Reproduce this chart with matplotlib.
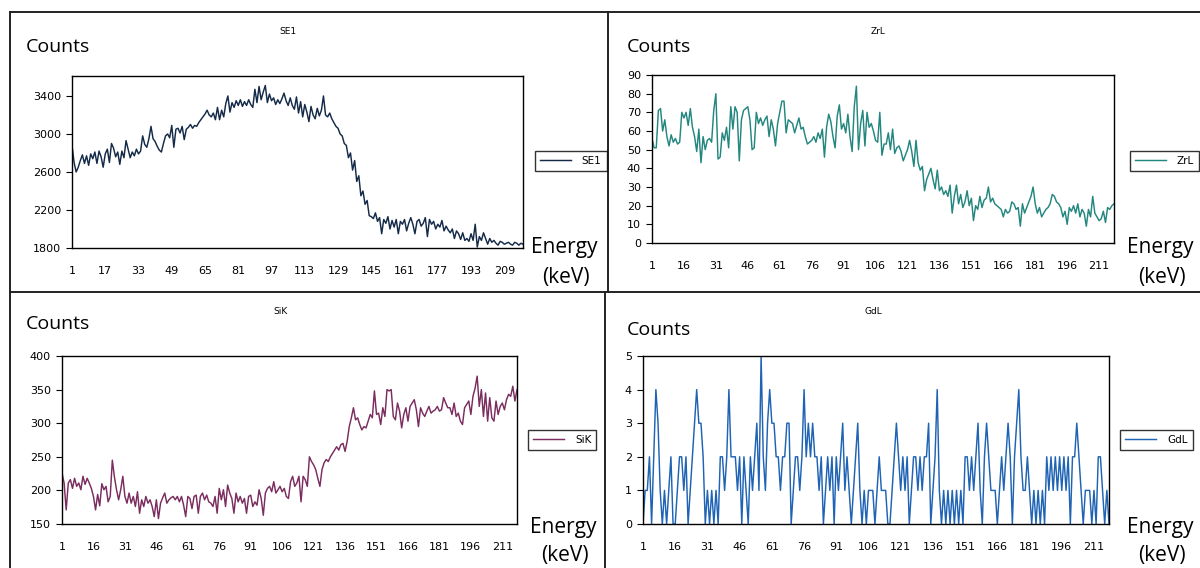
import matplotlib
matplotlib.use("Agg")
import matplotlib.pyplot as plt
from matplotlib.lines import Line2D

# ---------------- data ----------------
se1 = [2880, 2700, 2600, 2650, 2720, 2780, 2690, 2770, 2670, 2790,
       2740, 2810, 2690, 2820, 2760, 2650, 2790, 2840, 2700, 2900,
       2850, 2760, 2810, 2680, 2820, 2750, 2930, 2840, 2750, 2810,
       2770, 2840, 2790, 2820, 2980, 2890, 2860, 2950, 3080, 2950,
       2920, 2870, 2830, 2810, 2900, 2980, 3000, 2960, 3090, 2860,
       3050, 3060, 3010, 3080, 2940, 3050, 3070, 3100, 3060, 3090,
       3080, 3120, 3150, 3180, 3210, 3250, 3200, 3180, 3220, 3150,
       3280, 3150, 3250, 3180, 3320, 3400, 3230, 3330, 3280, 3350,
       3300, 3360, 3290, 3340, 3300, 3360, 3310, 3280, 3470, 3330,
       3500, 3360, 3440, 3510, 3330, 3420, 3350, 3380, 3310, 3360,
       3320, 3370, 3430, 3350, 3300, 3380, 3300, 3260, 3390, 3220,
       3340, 3180, 3310, 3230, 3130, 3290, 3200, 3160, 3270, 3190,
       3250, 3400, 3200, 3180, 3220, 3160, 3120, 3080, 3060, 3000,
       2980, 2900, 2880, 2750, 2800, 2620, 2720, 2500, 2560, 2350,
       2400, 2260, 2300, 2140, 2130, 2110, 2170, 2080, 2120, 1950,
       2100, 2060, 2130, 2000, 2090, 2020, 2100, 1950, 2080, 2050,
       2100, 1980, 2060, 2120, 2050, 1950, 2080, 2100, 2030, 2060,
       2120, 1920, 2100, 2050, 2080, 2000, 2050, 2020, 2090, 1980,
       2030, 1990, 1960, 2000, 1900, 1980, 1950, 1890, 1960, 1880,
       1900, 1870, 1950, 1880, 2050, 1810, 1920, 1880, 1960, 1900,
       1840, 1900, 1860, 1880, 1850, 1830, 1870, 1860, 1840, 1850,
       1860, 1840, 1830, 1860, 1850, 1830, 1850, 1840]

zrl = [56, 51, 51, 71, 72, 60, 66, 57, 52, 58,
       54, 56, 53, 54, 70, 67, 70, 63, 72, 62,
       57, 49, 61, 43, 57, 50, 55, 56, 54, 71,
       80, 45, 46, 59, 55, 62, 51, 73, 61, 73,
       70, 44, 66, 71, 72, 73, 66, 50, 51, 70,
       64, 67, 63, 66, 68, 57, 66, 61, 52, 64,
       70, 76, 76, 59, 66, 65, 64, 59, 63, 67,
       61, 62, 57, 53, 54, 55, 57, 54, 59, 56,
       61, 46, 62, 69, 65, 57, 51, 68, 74, 61,
       64, 59, 69, 57, 49, 73, 84, 50, 64, 71,
       52, 70, 62, 64, 60, 55, 54, 70, 47, 53,
       53, 59, 50, 61, 48, 51, 52, 49, 44, 47,
       50, 55, 49, 41, 55, 43, 39, 41, 28, 34,
       37, 40, 34, 29, 39, 28, 30, 26, 28, 25,
       31, 16, 25, 31, 21, 26, 19, 22, 28, 20,
       24, 12, 20, 18, 25, 19, 23, 24, 30, 22,
       24, 21, 20, 19, 18, 14, 18, 16, 17, 22,
       21, 18, 19, 9, 21, 16, 19, 22, 25, 30,
       21, 16, 19, 14, 16, 18, 19, 21, 26, 25,
       22, 21, 19, 14, 17, 10, 19, 17, 20, 16,
       21, 14, 18, 16, 9, 18, 14, 25, 16, 14,
       12, 13, 17, 11, 19, 18, 20, 21]

sik = [226, 211, 171, 211, 216, 203, 218, 206, 211, 201,
       221, 209, 218, 211, 203, 191, 171, 194, 177, 210,
       201, 206, 183, 191, 245, 220, 201, 186, 201, 221,
       191, 181, 196, 181, 191, 176, 198, 166, 186, 176,
       191, 181, 186, 176, 161, 186, 158, 181, 189, 196,
       181, 186, 189, 191, 186, 191, 183, 191, 178, 161,
       191, 188, 173, 191, 193, 166, 191, 196, 186, 193,
       183, 181, 176, 191, 166, 203, 186, 201, 176, 208,
       196, 188, 166, 196, 183, 191, 181, 188, 166, 191,
       193, 176, 183, 178, 201, 188, 163, 196, 203, 206,
       198, 213, 196, 201, 206, 198, 203, 191, 188, 213,
       221, 206, 211, 221, 183, 221, 216, 206, 250, 243,
       238, 231, 218, 206, 231, 241, 246, 243, 250, 255,
       260, 265, 260, 268, 270, 258, 273, 295, 308, 323,
       305, 308, 298, 290, 295, 293, 303, 313, 308, 348,
       313, 315, 298, 323, 310, 350, 348, 350, 310, 305,
       330, 318, 293, 313, 323, 303, 325, 330, 335, 320,
       295, 323, 315, 310, 318, 325, 315, 318, 320, 325,
       318, 320, 338, 330, 323, 323, 313, 330, 310, 315,
       303, 298, 323, 328, 333, 313, 340, 352, 370, 325,
       350, 310, 345, 303, 338, 308, 303, 333, 313, 325,
       330, 320, 335, 343, 340, 355, 333, 350]

gdl = [0, 1, 1, 2, 0, 2, 4, 3, 1, 0,
       1, 0, 1, 2, 0, 0, 1, 2, 2, 1,
       2, 0, 1, 2, 3, 4, 3, 3, 2, 0,
       1, 0, 1, 0, 1, 0, 2, 2, 1, 2,
       4, 2, 2, 2, 1, 2, 0, 2, 1, 0,
       2, 1, 2, 3, 1, 5, 2, 1, 3, 4,
       3, 3, 2, 2, 1, 2, 2, 3, 3, 0,
       1, 2, 2, 1, 2, 4, 2, 3, 2, 3,
       2, 2, 1, 2, 0, 1, 2, 1, 2, 0,
       2, 1, 2, 3, 1, 2, 1, 0, 1, 2,
       3, 1, 0, 1, 0, 1, 1, 1, 0, 1,
       2, 1, 1, 1, 0, 0, 1, 2, 3, 2,
       1, 2, 1, 2, 0, 1, 2, 2, 1, 2,
       1, 2, 2, 3, 0, 1, 2, 4, 1, 0,
       1, 0, 1, 0, 1, 0, 1, 0, 1, 0,
       2, 2, 1, 2, 1, 2, 3, 1, 0, 2,
       3, 2, 1, 1, 1, 0, 1, 2, 1, 2,
       3, 2, 0, 2, 3, 4, 2, 1, 1, 2,
       1, 0, 1, 0, 1, 0, 1, 0, 2, 1,
       2, 1, 2, 1, 2, 1, 2, 1, 2, 0,
       2, 2, 3, 2, 1, 0, 1, 1, 1, 0,
       1, 0, 2, 2, 1, 0, 1, 0]

names = ["SE1", "ZrL", "SiK", "GdL"]
colors = ["#142a48", "#23877f", "#7a2d5e", "#1f63b4"]
ylims = [(1800, 3610), (0, 90), (150, 400), (0, 5)]
yticks = [[1800, 2200, 2600, 3000, 3400], list(range(0, 91, 10)),
          [150, 200, 250, 300, 350, 400], [0, 1, 2, 3, 4, 5]]
xticks_se1 = list(range(1, 219, 16))
xticks_other = list(range(1, 219, 15))

# ---------------- layout (pixels) ----------------
W, H = 1200, 568
fig = plt.figure(figsize=(W / 100, H / 100), dpi=100)
fig.patch.set_facecolor("white")

def fx(x):
    return x / W

def fy(y):
    return 1 - y / H

boxes = [(72, 76, 523, 248), (652, 75, 1114, 243),
         (62, 356, 517, 524), (643, 356, 1109, 524)]
series = [se1, zrl, sik, gdl]
titles_xy = [(288, 32), (878, 32), (280, 312), (873, 312)]
counts_xy = [(26, 47), (627, 47), (26, 324), (627, 330)]
energy_xy = [(564, 248), (1160, 248), (563, 527), (1160, 527)]
legend_xy = [(535, 161), (1130, 161), (528, 440), (1120, 440)]

for i in range(4):
    l, t, r, b = boxes[i]
    ax = fig.add_axes([fx(l), fy(b), fx(r) - fx(l), fy(t) - fy(b)])
    data = series[i]
    x = list(range(1, len(data) + 1))
    ax.plot(x, data, color=colors[i], lw=1.05)
    ax.set_xlim(1, len(data))
    ax.set_ylim(*ylims[i])
    ax.set_yticks(yticks[i])
    xt = xticks_se1 if i == 0 else xticks_other
    ax.set_xticks(xt)
    ax.set_xticklabels([str(v) for v in xt])
    ax.tick_params(axis="both", labelsize=8, length=4, width=0.8,
                   direction="out", color="black", pad=4)
    ax.tick_params(axis="x", length=0, pad=13)
    for s in ax.spines.values():
        s.set_linewidth(1.0)
        s.set_color("black")

    fig.text(fx(titles_xy[i][0]), fy(titles_xy[i][1]), names[i],
             ha="center", va="center", fontsize=6.5)
    fig.text(fx(counts_xy[i][0]), fy(counts_xy[i][1]), "Counts",
             ha="left", va="center", fontsize=14, family="Open Sans")
    ex, ey = energy_xy[i]
    fig.text(fx(ex), fy(ey), "Energy", ha="center", va="center",
             fontsize=15, family="Open Sans")
    fig.text(fx(ex + 2), fy(ey + 29), "(keV)", ha="center", va="center",
             fontsize=15, family="Open Sans")
    h = Line2D([0], [0], color=colors[i], lw=1.05)
    fig.legend([h], [names[i]], loc="center left",
               bbox_to_anchor=(fx(legend_xy[i][0]), fy(legend_xy[i][1])),
               bbox_transform=fig.transFigure, fontsize=7.5, frameon=True,
               fancybox=False, edgecolor="black", handlelength=3.0,
               borderpad=0.5, handletextpad=1.0, borderaxespad=0)

frame_lines = [
    ((10, 12), (1200, 12)),
    ((10, 12), (10, 568)),
    ((608, 12), (608, 292)),
    ((10, 292), (1200, 292)),
    ((605, 292), (605, 568)),
]
for (x0, y0), (x1, y1) in frame_lines:
    fig.add_artist(Line2D([fx(x0), fx(x1)], [fy(y0), fy(y1)],
                          color="#222222", lw=1.4, transform=fig.transFigure))

fig.savefig("out.png", dpi=100)
